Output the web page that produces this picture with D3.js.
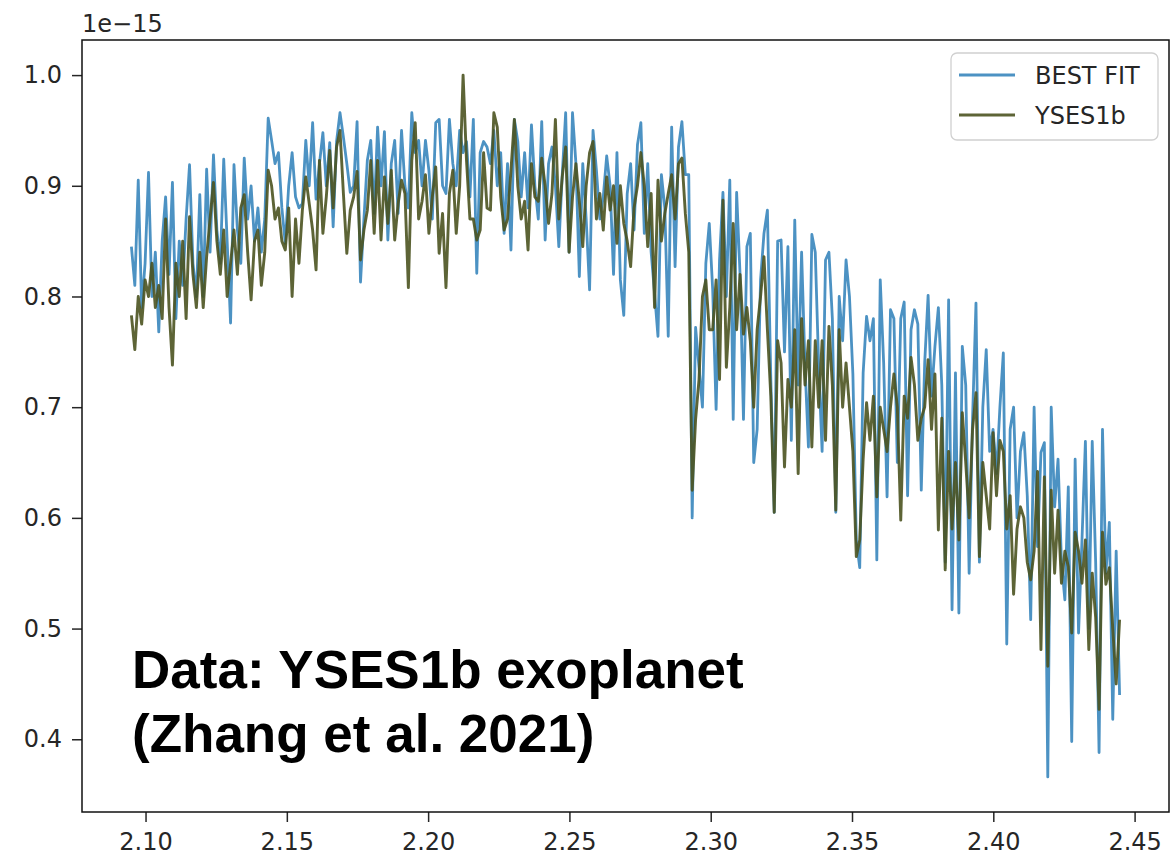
<!DOCTYPE html>
<html>
<head>
<meta charset="utf-8">
<script src="https://cdn.jsdelivr.net/npm/d3@7"></script>
<style>
  html, body { margin: 0; padding: 0; background: #fff; }
  svg { display: block; }
</style>
</head>
<body>
<svg id="chart" width="1171" height="858"></svg>
<script>
// Wavelength grid (micron)
const wavelength = [
  2.09500, 2.09621, 2.09742, 2.09863, 2.09984, 2.10105, 2.10226, 2.10347, 2.10468, 2.10589,
  2.10710, 2.10831, 2.10952, 2.11073, 2.11194, 2.11315, 2.11436, 2.11557, 2.11678, 2.11799,
  2.11920, 2.12041, 2.12162, 2.12283, 2.12404, 2.12525, 2.12646, 2.12767, 2.12888, 2.13009,
  2.13130, 2.13251, 2.13372, 2.13493, 2.13614, 2.13735, 2.13856, 2.13977, 2.14098, 2.14219,
  2.14340, 2.14461, 2.14582, 2.14703, 2.14824, 2.14945, 2.15066, 2.15187, 2.15308, 2.15429,
  2.15550, 2.15671, 2.15792, 2.15913, 2.16034, 2.16155, 2.16276, 2.16397, 2.16518, 2.16639,
  2.16760, 2.16881, 2.17002, 2.17123, 2.17244, 2.17365, 2.17486, 2.17607, 2.17728, 2.17849,
  2.17970, 2.18091, 2.18212, 2.18333, 2.18454, 2.18575, 2.18696, 2.18817, 2.18938, 2.19059,
  2.19180, 2.19301, 2.19422, 2.19543, 2.19664, 2.19785, 2.19906, 2.20027, 2.20148, 2.20269,
  2.20390, 2.20511, 2.20632, 2.20753, 2.20874, 2.20995, 2.21116, 2.21237, 2.21358, 2.21479,
  2.21600, 2.21721, 2.21842, 2.21963, 2.22084, 2.22205, 2.22326, 2.22447, 2.22568, 2.22689,
  2.22810, 2.22931, 2.23052, 2.23173, 2.23294, 2.23415, 2.23536, 2.23657, 2.23778, 2.23899,
  2.24020, 2.24141, 2.24262, 2.24383, 2.24504, 2.24625, 2.24746, 2.24867, 2.24988, 2.25109,
  2.25230, 2.25351, 2.25472, 2.25593, 2.25714, 2.25835, 2.25956, 2.26077, 2.26198, 2.26319,
  2.26440, 2.26561, 2.26682, 2.26803, 2.26924, 2.27045, 2.27166, 2.27287, 2.27408, 2.27529,
  2.27650, 2.27771, 2.27892, 2.28013, 2.28134, 2.28255, 2.28376, 2.28497, 2.28618, 2.28739,
  2.28860, 2.28981, 2.29102, 2.29223, 2.29344, 2.29465, 2.29586, 2.29707, 2.29828, 2.29949,
  2.30070, 2.30191, 2.30312, 2.30433, 2.30554, 2.30675, 2.30796, 2.30917, 2.31038, 2.31159,
  2.31280, 2.31401, 2.31522, 2.31643, 2.31764, 2.31885, 2.32006, 2.32127, 2.32248, 2.32369,
  2.32490, 2.32611, 2.32732, 2.32853, 2.32974, 2.33095, 2.33216, 2.33337, 2.33458, 2.33579,
  2.33700, 2.33821, 2.33942, 2.34063, 2.34184, 2.34305, 2.34426, 2.34547, 2.34668, 2.34789,
  2.34910, 2.35031, 2.35152, 2.35273, 2.35394, 2.35515, 2.35636, 2.35757, 2.35878, 2.35999,
  2.36120, 2.36241, 2.36362, 2.36483, 2.36604, 2.36725, 2.36846, 2.36967, 2.37088, 2.37209,
  2.37330, 2.37451, 2.37572, 2.37693, 2.37814, 2.37935, 2.38056, 2.38177, 2.38298, 2.38419,
  2.38540, 2.38661, 2.38782, 2.38903, 2.39024, 2.39145, 2.39266, 2.39387, 2.39508, 2.39629,
  2.39750, 2.39871, 2.39992, 2.40113, 2.40234, 2.40355, 2.40476, 2.40597, 2.40718, 2.40839,
  2.40960, 2.41081, 2.41202, 2.41323, 2.41444, 2.41565, 2.41686, 2.41807, 2.41928, 2.42049,
  2.42170, 2.42291, 2.42412, 2.42533, 2.42654, 2.42775, 2.42896, 2.43017, 2.43138, 2.43259,
  2.43380, 2.43501, 2.43622, 2.43743, 2.43864, 2.43985, 2.44106, 2.44227, 2.44348, 2.44469
];

// Best-fit model flux (units of 1e-15)
const bestFit = [
  0.845, 0.81, 0.905, 0.79, 0.83, 0.912, 0.80, 0.84, 0.768, 0.85,
  0.89, 0.82, 0.903, 0.78, 0.85, 0.81, 0.87, 0.919, 0.83, 0.80,
  0.892, 0.80, 0.915, 0.84, 0.928, 0.86, 0.83, 0.924, 0.85, 0.776,
  0.919, 0.86, 0.83, 0.925, 0.87, 0.90, 0.85, 0.88, 0.84, 0.87,
  0.961, 0.941, 0.92, 0.93, 0.88, 0.848, 0.90, 0.93, 0.89, 0.88,
  0.884, 0.941, 0.90, 0.957, 0.888, 0.92, 0.948, 0.90, 0.939, 0.863,
  0.94, 0.966, 0.944, 0.92, 0.894, 0.90, 0.958, 0.813, 0.87, 0.923,
  0.941, 0.875, 0.953, 0.90, 0.949, 0.851, 0.92, 0.941, 0.875, 0.95,
  0.90, 0.88, 0.966, 0.93, 0.941, 0.90, 0.941, 0.914, 0.87, 0.957,
  0.96, 0.90, 0.893, 0.96, 0.92, 0.90, 0.95, 0.93, 0.94, 0.89,
  0.96, 0.821, 0.93, 0.94, 0.935, 0.92, 0.95, 0.90, 0.93, 0.857,
  0.92, 0.842, 0.96, 0.94, 0.89, 0.93, 0.88, 0.955, 0.90, 0.87,
  0.958, 0.851, 0.92, 0.935, 0.90, 0.845, 0.91, 0.966, 0.84, 0.966,
  0.92, 0.818, 0.92, 0.87, 0.806, 0.95, 0.914, 0.87, 0.89, 0.927,
  0.90, 0.82, 0.93, 0.815, 0.783, 0.893, 0.92, 0.86, 0.937, 0.957,
  0.857, 0.92, 0.84, 0.803, 0.764, 0.91, 0.88, 0.764, 0.953, 0.827,
  0.935, 0.958, 0.91, 0.91, 0.60, 0.772, 0.736, 0.70, 0.83, 0.866,
  0.806, 0.698, 0.833, 0.894, 0.80, 0.905, 0.689, 0.894, 0.82, 0.689,
  0.845, 0.857, 0.65, 0.68, 0.815, 0.857, 0.878, 0.725, 0.605, 0.85,
  0.851, 0.75, 0.845, 0.67, 0.869, 0.72, 0.84, 0.737, 0.664, 0.856,
  0.84, 0.737, 0.66, 0.833, 0.84, 0.78, 0.605, 0.80, 0.76, 0.833,
  0.80, 0.73, 0.58, 0.555, 0.731, 0.782, 0.76, 0.78, 0.562, 0.815,
  0.74, 0.619, 0.788, 0.78, 0.65, 0.78, 0.795, 0.62, 0.77, 0.788,
  0.775, 0.625, 0.74, 0.801, 0.71, 0.755, 0.79, 0.72, 0.56, 0.797,
  0.517, 0.731, 0.514, 0.755, 0.72, 0.55, 0.69, 0.794, 0.56, 0.70,
  0.752, 0.66, 0.68, 0.64, 0.70, 0.749, 0.486, 0.68, 0.70, 0.60,
  0.66, 0.677, 0.62, 0.508, 0.70, 0.574, 0.659, 0.668, 0.366, 0.70,
  0.61, 0.653, 0.56, 0.526, 0.628, 0.398, 0.653, 0.496, 0.58, 0.669,
  0.50, 0.669, 0.56, 0.388, 0.68, 0.55, 0.596, 0.418, 0.57, 0.44
];

// Observed YSES 1b flux (units of 1e-15)
const yses1b = [
  0.783, 0.752, 0.80, 0.775, 0.815, 0.80, 0.83, 0.79, 0.81, 0.78,
  0.87, 0.79, 0.738, 0.83, 0.80, 0.85, 0.78, 0.872, 0.82, 0.79,
  0.84, 0.79, 0.836, 0.87, 0.903, 0.85, 0.82, 0.86, 0.80, 0.83,
  0.86, 0.82, 0.88, 0.892, 0.84, 0.797, 0.85, 0.86, 0.81, 0.84,
  0.914, 0.90, 0.87, 0.88, 0.85, 0.842, 0.88, 0.80, 0.87, 0.83,
  0.878, 0.908, 0.884, 0.86, 0.824, 0.923, 0.857, 0.89, 0.932, 0.88,
  0.935, 0.95, 0.893, 0.839, 0.878, 0.89, 0.913, 0.833, 0.86, 0.878,
  0.923, 0.857, 0.923, 0.851, 0.908, 0.866, 0.914, 0.851, 0.884, 0.905,
  0.893, 0.808, 0.923, 0.957, 0.87, 0.886, 0.91, 0.857, 0.89, 0.917,
  0.839, 0.875, 0.808, 0.893, 0.914, 0.857, 0.90, 1.0, 0.923, 0.87,
  0.87, 0.851, 0.86, 0.93, 0.88, 0.878, 0.966, 0.953, 0.89, 0.86,
  0.87, 0.914, 0.96, 0.90, 0.87, 0.886, 0.842, 0.92, 0.89, 0.886,
  0.925, 0.90, 0.866, 0.893, 0.96, 0.87, 0.908, 0.935, 0.84, 0.89,
  0.92, 0.886, 0.845, 0.90, 0.93, 0.94, 0.87, 0.893, 0.86, 0.908,
  0.878, 0.90, 0.848, 0.90, 0.866, 0.85, 0.827, 0.88, 0.90, 0.93,
  0.90, 0.845, 0.893, 0.79, 0.905, 0.85, 0.875, 0.893, 0.91, 0.87,
  0.92, 0.925, 0.875, 0.84, 0.625, 0.689, 0.725, 0.80, 0.815, 0.77,
  0.77, 0.815, 0.725, 0.887, 0.736, 0.79, 0.866, 0.77, 0.82, 0.766,
  0.79, 0.76, 0.70, 0.77, 0.80, 0.836, 0.77, 0.71, 0.605, 0.76,
  0.74, 0.646, 0.725, 0.70, 0.77, 0.64, 0.78, 0.72, 0.76, 0.664,
  0.76, 0.70, 0.76, 0.67, 0.773, 0.72, 0.607, 0.77, 0.70, 0.74,
  0.70, 0.66, 0.565, 0.58, 0.653, 0.704, 0.67, 0.71, 0.619, 0.70,
  0.68, 0.66, 0.70, 0.73, 0.70, 0.598, 0.71, 0.69, 0.745, 0.72,
  0.67, 0.69, 0.70, 0.743, 0.68, 0.73, 0.589, 0.69, 0.553, 0.66,
  0.59, 0.65, 0.58, 0.695, 0.65, 0.60, 0.68, 0.713, 0.565, 0.65,
  0.62, 0.59, 0.677, 0.62, 0.67, 0.66, 0.59, 0.62, 0.531, 0.59,
  0.61, 0.60, 0.56, 0.544, 0.57, 0.642, 0.481, 0.637, 0.466, 0.625,
  0.55, 0.607, 0.541, 0.57, 0.556, 0.496, 0.587, 0.57, 0.541, 0.58,
  0.481, 0.55, 0.51, 0.427, 0.587, 0.54, 0.555, 0.50, 0.45, 0.508
];

const xTicks = [2.10, 2.15, 2.20, 2.25, 2.30, 2.35, 2.40, 2.45];
const yTicks = [0.4, 0.5, 0.6, 0.7, 0.8, 0.9, 1.0];
const seriesNames = ["BEST FIT", "YSES1b"];
const offsetText = "1e\u221215";
const noteLines = ["Data: YSES1b exoplanet", "(Zhang et al. 2021)"];

const tickFont = "'DejaVu Sans', Verdana, sans-serif";
const tickSize = 24;
const inkColor = "#262626";
const lineStyle = {
  "BEST FIT": { color: "#1f77b4", opacity: 0.8, width: 2.8 },
  "YSES1b":   { color: "#4b5320", opacity: 0.9, width: 2.9 }
};

const svg = d3.select("#chart");
const frame = { left: 82, right: 1169, top: 40, bottom: 812 };

// Axis limits padded by 5% of the data span on each side
function padded(ext) {
  const p = (ext[1] - ext[0]) * 0.05;
  return [ext[0] - p, ext[1] + p];
}
const x = d3.scaleLinear()
  .domain(padded(d3.extent(wavelength)))
  .range([frame.left, frame.right]);
const y = d3.scaleLinear()
  .domain(padded(d3.extent(bestFit.concat(yses1b))))
  .range([frame.bottom, frame.top]);

svg.append("defs").append("clipPath").attr("id", "plot-clip")
  .append("rect")
  .attr("x", frame.left).attr("y", frame.top)
  .attr("width", frame.right - frame.left)
  .attr("height", frame.bottom - frame.top);

// Spectra: model underneath, observation on top
const line = d3.line()
  .x((d, i) => x(wavelength[i]))
  .y(d => y(d));

const traces = svg.append("g").attr("clip-path", "url(#plot-clip)");
[["BEST FIT", bestFit], ["YSES1b", yses1b]].forEach(([name, values]) => {
  const s = lineStyle[name];
  traces.append("path")
    .datum(values)
    .attr("d", line)
    .attr("fill", "none")
    .attr("stroke", s.color)
    .attr("stroke-opacity", s.opacity)
    .attr("stroke-width", s.width)
    .attr("stroke-linejoin", "round");
});

// Axes
function styleAxis(g) {
  g.select(".domain").remove();
  g.selectAll(".tick line").attr("stroke", inkColor).attr("stroke-width", 1.5);
  g.selectAll(".tick text")
    .attr("fill", inkColor)
    .style("font-family", tickFont)
    .style("font-size", tickSize + "px");
}

svg.append("g")
  .attr("transform", `translate(0,${frame.bottom})`)
  .call(d3.axisBottom(x).tickValues(xTicks).tickFormat(d3.format(".2f"))
    .tickSize(10).tickPadding(11))
  .call(styleAxis);

svg.append("g")
  .attr("transform", `translate(${frame.left},0)`)
  .call(d3.axisLeft(y).tickValues(yTicks).tickFormat(d3.format(".1f"))
    .tickSize(10).tickPadding(10))
  .call(styleAxis);

// Frame
svg.append("rect")
  .attr("x", frame.left).attr("y", frame.top)
  .attr("width", frame.right - frame.left)
  .attr("height", frame.bottom - frame.top)
  .attr("fill", "none")
  .attr("stroke", "#111")
  .attr("stroke-width", 1.5);

// Scale offset label
svg.append("text")
  .attr("x", frame.left)
  .attr("y", 32)
  .attr("fill", inkColor)
  .style("font-family", tickFont)
  .style("font-size", tickSize + "px")
  .text(offsetText);

// Legend
const legend = svg.append("g").attr("transform", "translate(951,53)");
legend.append("rect")
  .attr("width", 207).attr("height", 87)
  .attr("rx", 6).attr("ry", 6)
  .attr("fill", "#fff").attr("fill-opacity", 0.8)
  .attr("stroke", "#d0d0d0").attr("stroke-width", 1.3);
const rowY = d3.scalePoint().domain(seriesNames).range([22, 62]);
seriesNames.forEach(name => {
  const s = lineStyle[name];
  const g = legend.append("g").attr("transform", `translate(0,${rowY(name)})`);
  g.append("line")
    .attr("x1", 8).attr("x2", 64)
    .attr("stroke", s.color)
    .attr("stroke-opacity", s.opacity)
    .attr("stroke-width", s.width);
  g.append("text")
    .attr("x", 84).attr("y", 9)
    .attr("fill", inkColor)
    .style("font-family", tickFont)
    .style("font-size", tickSize + "px")
    .text(name);
});

// Data source note
const note = svg.append("text")
  .attr("x", 132)
  .attr("fill", "#000")
  .style("font-family", "'Liberation Sans', Arial, Helvetica, sans-serif")
  .style("font-weight", "bold")
  .style("font-size", "53px");
noteLines.forEach((t, i) => {
  note.append("tspan").attr("x", 132).attr("y", 688 + i * 64).text(t);
});
</script>
</body>
</html>
